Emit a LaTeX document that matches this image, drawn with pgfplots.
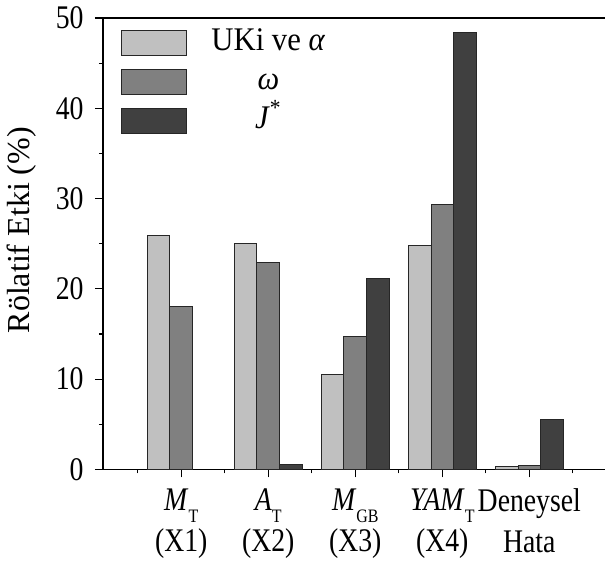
\documentclass[border=0pt]{standalone}
\usepackage{fontspec}
\setmainfont{Liberation Serif}[FakeStretch=0.84]
\newfontfamily\labfont{Liberation Serif}
\newfontfamily\legfont{Liberation Serif}[FakeStretch=0.93]
\usepackage{pgfplots}
\pgfplotsset{compat=1.18}
\definecolor{c1}{HTML}{C0C0C0}
\definecolor{c2}{HTML}{808080}
\definecolor{c3}{HTML}{404040}
\newcommand{\sub}[1]{\raisebox{-6pt}{\fontsize{9.5}{9.5}\selectfont #1}}
\begin{document}
\fontsize{16.5}{19}\selectfont
\begin{tikzpicture}
\pgfplotsset{mylegend/.style={legend image code/.code={\draw[##1] (0pt,-6.25pt) rectangle (32.5pt,6.25pt);}}}
\begin{axis}[
  name=a,
  width=251pt, height=225.75pt, scale only axis,
  xmin=-0.9, xmax=4.87, ymin=0, ymax=50,
  axis lines*=left,
  axis line style={line width=0.7pt},
  every tick/.style={line width=0.6pt, black},
  tick align=outside,
  major tick length=4pt, minor tick length=2pt,
  ytick={0,10,...,50}, minor ytick={5,15,...,45},
  xtick={0,1,2,3,4}, minor xtick={-0.5,0.5,1.5,2.5,3.5,4.5},
  xticklabels={
    {\textit{M}\sub{T}\\(X1)},
    {\textit{A}\sub{T}\\(X2)},
    {\textit{M}\sub{GB}\\(X3)},
    {\textit{YAM}\sub{T}\\(X4)},
    {Deneysel\\Hata}},
  xticklabel style={align=center, font=\fontsize{16.5}{20.5}\selectfont},
  yticklabel style={font=\fontsize{16.5}{19}\selectfont},
  /pgf/number format/assume math mode=true,
  ylabel={\labfont Rölatif Etki (\%)},
  ylabel style={at={(axis description cs:-0.162,0.53)}, anchor=center, font=\fontsize{16}{19}\selectfont},
  legend cell align=center,
  legend style={at={(axis description cs:0.036,1)}, anchor=north west, yshift=-4pt,
    draw=none, fill=none, inner sep=0pt, row sep=2.5pt, column sep=11pt,
    nodes={inner sep=1pt, text height=11pt, text depth=4pt},
    font=\fontsize{16.5}{19}\selectfont\legfont},
]
\addplot[ybar, bar width=0.26, bar shift=-0.26, fill=c1, draw=black!85, line width=0.5pt, mylegend]
  coordinates {(0,25.9) (1,25.0) (2,10.5) (3,24.8) (4,0.3)};
\addplot[ybar, bar width=0.26, bar shift=0, fill=c2, draw=black!85, line width=0.5pt, mylegend]
  coordinates {(0,18.0) (1,22.9) (2,14.7) (3,29.4) (4,0.45)};
\addplot[ybar, bar width=0.26, bar shift=0.26, fill=c3, draw=black!85, line width=0.5pt, mylegend]
  coordinates {(1,0.5) (2,21.1) (3,48.4) (4,5.5)};
\legend{UKi ve \textit{α}, \textit{ω}, \textit{J}\textsuperscript{*}}
\draw[line width=0.7pt] (rel axis cs:0,1) -- (rel axis cs:1,1);
\end{axis}
\pgfresetboundingbox
\path[use as bounding box] ([xshift=-51.5pt,yshift=-52.25pt]a.south west) rectangle ([yshift=9pt]a.north east);
\end{tikzpicture}
\end{document}
